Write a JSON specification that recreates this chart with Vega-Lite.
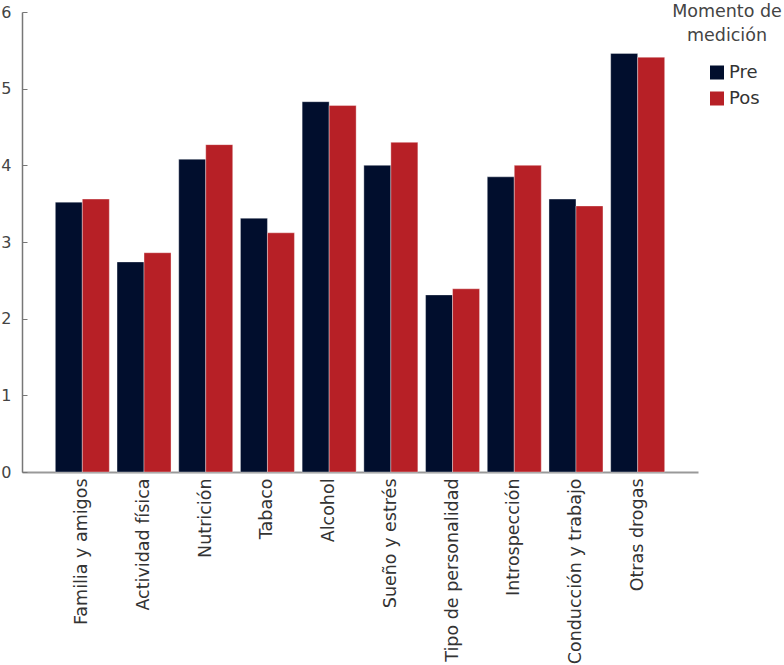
{
  "$schema": "https://vega.github.io/schema/vega-lite/v6.json",
  "autosize": "none",
  "width": 676,
  "height": 460,
  "padding": {"left": 22, "top": 12, "right": 86, "bottom": 193},
  "background": "white",
  "data": {
    "values": [
      {"area": "Familia y amigos", "momento": "Pre", "valor": 3.52},
      {"area": "Familia y amigos", "momento": "Pos", "valor": 3.56},
      {"area": "Actividad física", "momento": "Pre", "valor": 2.74},
      {"area": "Actividad física", "momento": "Pos", "valor": 2.86},
      {"area": "Nutrición", "momento": "Pre", "valor": 4.08},
      {"area": "Nutrición", "momento": "Pos", "valor": 4.27},
      {"area": "Tabaco", "momento": "Pre", "valor": 3.31},
      {"area": "Tabaco", "momento": "Pos", "valor": 3.12},
      {"area": "Alcohol", "momento": "Pre", "valor": 4.83},
      {"area": "Alcohol", "momento": "Pos", "valor": 4.78},
      {"area": "Sueño y estrés", "momento": "Pre", "valor": 4.0},
      {"area": "Sueño y estrés", "momento": "Pos", "valor": 4.3},
      {"area": "Tipo de personalidad", "momento": "Pre", "valor": 2.31},
      {"area": "Tipo de personalidad", "momento": "Pos", "valor": 2.39},
      {"area": "Introspección", "momento": "Pre", "valor": 3.85},
      {"area": "Introspección", "momento": "Pos", "valor": 4.0},
      {"area": "Conducción y trabajo", "momento": "Pre", "valor": 3.56},
      {"area": "Conducción y trabajo", "momento": "Pos", "valor": 3.47},
      {"area": "Otras drogas", "momento": "Pre", "valor": 5.46},
      {"area": "Otras drogas", "momento": "Pos", "valor": 5.41}
    ]
  },
  "mark": {"type": "bar", "stroke": "white", "strokeOpacity": 0.45, "strokeWidth": 0.8},
  "encoding": {
    "x": {
      "field": "area",
      "type": "nominal",
      "sort": null,
      "scale": {"paddingInner": 0.125, "paddingOuter": 0.54},
      "axis": {
        "title": null,
        "labelAngle": -90,
        "labelFont": "DejaVu Sans",
        "labelFontSize": 17.5,
        "labelColor": "#333333",
        "labelPadding": 6,
        "ticks": false,
        "domainColor": "#999999",
        "domainWidth": 2,
        "labelLimit": 300
      }
    },
    "xOffset": {"field": "momento", "type": "nominal", "sort": ["Pre", "Pos"]},
    "y": {
      "field": "valor",
      "type": "quantitative",
      "scale": {"domain": [0, 6], "nice": false},
      "axis": {
        "title": null,
        "values": [0, 1, 2, 3, 4, 5, 6],
        "grid": false,
        "labelFont": "DejaVu Sans",
        "labelFontSize": 16,
        "labelColor": "#444444",
        "tickSize": -5,
        "tickColor": "#777777",
        "labelPadding": 16,
        "domainColor": "#777777",
        "domainWidth": 1.5
      }
    },
    "color": {
      "field": "momento",
      "type": "nominal",
      "sort": ["Pre", "Pos"],
      "scale": {"domain": ["Pre", "Pos"], "range": ["#010E2D", "#B72026"]},
      "legend": {
        "title": ["Momento de", "medición"],
        "orient": "none",
        "legendX": 650,
        "legendY": -9,
        "titleFont": "DejaVu Sans",
        "titleFontSize": 17.5,
        "titleFontWeight": "normal",
        "titleColor": "#444444",
        "titleAlign": "center",
        "titleAnchor": "middle",
        "titleLineHeight": 24,
        "titlePadding": 19,
        "symbolType": "square",
        "symbolSize": 196,
        "symbolStrokeWidth": 0,
        "symbolOffset": 13,
        "labelFont": "DejaVu Sans",
        "labelFontSize": 18,
        "labelColor": "#333333",
        "labelOffset": 3,
        "rowPadding": 8
      }
    }
  },
  "config": {"view": {"stroke": null}}
}
